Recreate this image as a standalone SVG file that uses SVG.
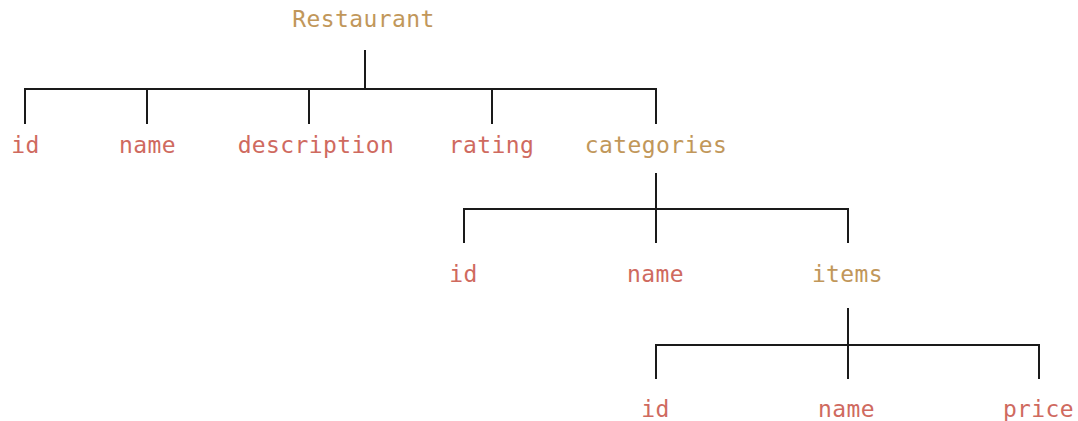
<svg xmlns="http://www.w3.org/2000/svg" width="1078" height="421" viewBox="0 0 1078 421">
<style>
text{font-family:"DejaVu Sans Mono","Liberation Mono",monospace;font-size:23px;letter-spacing:0.4px;text-anchor:middle}
.p{fill:#c1975a}
.l{fill:#cf6a5f}
#connectors path{fill:none;stroke:#1a1a1a;stroke-width:2}
</style>
<rect width="1078" height="421" fill="#fff"/>
<g id="connectors">
<path d="M365 50V89M25 124V89H656V124M147 89V124M309 89V124M492 89V124"/>
<path d="M656 173V243M464 243V209H848V243"/>
<path d="M848 308V379M656 379V345H1039V379"/>
</g>
<g id="restaurant"><text class="p" x="363.5" y="27">Restaurant</text></g>
<g id="r-id"><text class="l" x="25.5" y="153">id</text></g>
<g id="r-name"><text class="l" x="147.5" y="153">name</text></g>
<g id="r-description"><text class="l" x="316" y="153">description</text></g>
<g id="r-rating"><text class="l" x="491.5" y="153">rating</text></g>
<g id="categories"><text class="p" x="656" y="153">categories</text></g>
<g id="c-id"><text class="l" x="463.5" y="282">id</text></g>
<g id="c-name"><text class="l" x="655.5" y="282">name</text></g>
<g id="items"><text class="p" x="847.5" y="282">items</text></g>
<g id="i-id"><text class="l" x="655.5" y="417">id</text></g>
<g id="i-name"><text class="l" x="846.5" y="417">name</text></g>
<g id="i-price"><text class="l" x="1038.5" y="417">price</text></g>
</svg>
